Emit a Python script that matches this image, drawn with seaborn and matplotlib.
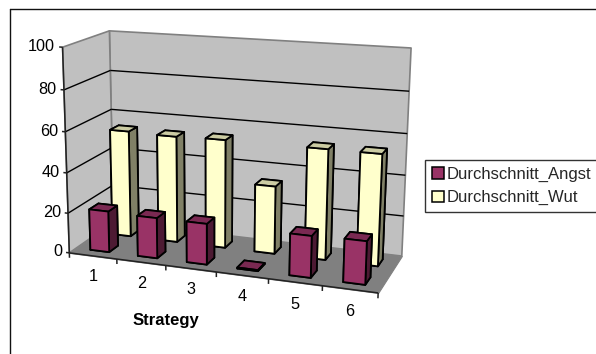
import numpy as np
import pandas as pd
import seaborn as sns
import matplotlib
matplotlib.use("Agg")
import matplotlib.pyplot as plt
from matplotlib.lines import Line2D
from matplotlib.patches import Patch
from mpl_toolkits.mplot3d import proj3d
from mpl_toolkits.mplot3d.art3d import Poly3DCollection, Line3DCollection

strategies = ["1", "2", "3", "4", "5", "6"]
angst = [20.5, 20, 20, 0.5, 20, 20.5]
wut = [54, 53.5, 54, 33.5, 54, 54]
value_ticks = [0, 20, 40, 60, 80, 100]
series_names = ["Durchschnitt_Angst", "Durchschnitt_Wut"]

sns.set_theme(style="white")
plt.rcParams["font.family"] = ["Liberation Sans", "DejaVu Sans"]

W, H = 596, 354
data = pd.DataFrame({"Strategy": strategies, series_names[0]: angst, series_names[1]: wut})
front_colors = sns.color_palette(["#993366", "#FFFFCC"])
top_colors = ["#7A2952", "#CCCCA3"]
side_colors = ["#4D1A33", "#808066"]
TEXT_SIZE = 11.7

fig = plt.figure(figsize=(W / 100, H / 100), dpi=100, facecolor="white")
# A square 3D axes as wide as the figure, so nothing is clipped.
ax = fig.add_axes([0, -(W - H) / (2 * H), 1, W / H], projection="3d", computed_zorder=False)
ax.set_axis_off()
ax.patch.set_visible(False)
ax.apply_aspect()

# Camera of the chart box: box corners (strategy, depth, value) and where they appear.
n = len(strategies)
box = [(0, 0, 0), (0, 0, 100), (0, 2, 0), (0, 2, 100), (n, 2, 100), (n, 2, 0), (n, 0, 0)]
seen = [(70, 253), (62, 47), (113, 222), (110, 31), (411, 48), (402, 256), (378, 293)]
view = ax.transData.inverted().transform([(px, H - py) for px, py in seen])
rows, rhs = [], []
for (x, y, z), (u, v) in zip(box, view):
    rows.append([x, y, z, 1, 0, 0, 0, 0, -u * x, -u * y, -u * z])
    rows.append([0, 0, 0, 0, x, y, z, 1, -v * x, -v * y, -v * z])
    rhs += [u, v]
p = np.linalg.lstsq(np.array(rows), np.array(rhs), rcond=None)[0]
camera = np.array([
    [p[0], p[1], p[2], p[3]],
    [p[4], p[5], p[6], p[7]],
    [-0.3, 1.0, -0.01, 0.0],
    [p[8], p[9], p[10], 1.0],
])
ax.get_proj = lambda: camera


def label_at(x, y, z, text, **kw):
    """Place a flat figure text at a point of the chart box."""
    u, v, _ = proj3d.proj_transform(x, y, z, camera)
    fx, fy = fig.transFigure.inverted().transform(ax.transData.transform((u, v)))
    fig.text(fx, fy, text, fontsize=TEXT_SIZE, color="black", **kw)


# Walls and floor
wall = Poly3DCollection(
    [[(0, 2, 0), (n, 2, 0), (n, 2, 100), (0, 2, 100)],
     [(0, 0, 0), (0, 2, 0), (0, 2, 100), (0, 0, 100)]],
    facecolors="#C0C0C0", edgecolors="#808080", linewidths=1.2, zorder=1)
floor = Poly3DCollection([[(0, 0, 0), (n, 0, 0), (n, 2, 0), (0, 2, 0)]],
                         facecolors="#808080", edgecolors="#808080", linewidths=0.8, zorder=2)
ax.add_collection3d(wall)
ax.add_collection3d(floor)

# Gridlines on both walls
grid = []
for v in value_ticks[1:-1]:
    grid.append([(0, 0, v), (0, 2, v)])
    grid.append([(0, 2, v), (n, 2, v)])
ax.add_collection3d(Line3DCollection(grid, colors="black", linewidths=1.0, zorder=3))

# Axis lines, value ticks and labels
axis_lines = [[(0, 0, 0), (n, 0, 0)], [(0, 0, 0), (0, 0, 100)]]
for v in value_ticks:
    axis_lines.append([(-0.07, 0, v), (0, 0, v)])
    label_at(-0.15, 0, v, str(v), ha="right", va="center")

# Category ticks under the front edge
for i in range(n + 1):
    axis_lines.append([(i, 0, 0), (i, 0, -2.5)])
for i, label in enumerate(strategies):
    label_at(i + 0.5, 0, -10.5, label, ha="center", va="center")
ax.add_collection3d(Line3DCollection(axis_lines, colors="#222222", linewidths=1.1, zorder=3))

# Bars: back row first, then the front row, each from left to right
bar_x, bar_w = 0.3, 0.4
bar_y, bar_d = 0.3, 0.4
for row, name in reversed(list(enumerate(series_names))):
    face = [matplotlib.colors.to_hex(front_colors[row]), top_colors[row], side_colors[row]]
    # bar3d face order: bottom, top, front, back, left, right
    colors = [face[0], face[1], face[0], face[0], face[2], face[2]]
    for i, value in enumerate(data[name]):
        ax.bar3d(i + bar_x, row + bar_y, 0, bar_w, bar_d, value, color=colors,
                 edgecolor="black", linewidth=1.3, shade=False, zorder=4 + (1 - row))

fig.text(166 / W, 1 - 320 / H, "Strategy", ha="center", va="center",
         fontsize=12, fontweight="bold", color="black")

# Legend and the outer chart border
handles = [Patch(facecolor=front_colors[i], edgecolor="black", linewidth=1.1, label=series_names[i])
           for i in range(2)]
fig.legend(handles=handles, loc="upper left", bbox_to_anchor=(425 / W, 1 - 159.5 / H),
           frameon=True, fancybox=False, edgecolor="#333333", framealpha=1, fontsize=12,
           borderpad=0.42, labelspacing=0.52, handlelength=0.7, handleheight=0.7,
           handletextpad=0.2, borderaxespad=0)
fig.add_artist(Line2D([9.5 / W, 1], [1 - 9 / H, 1 - 9 / H], color="#111111", lw=1.0))
fig.add_artist(Line2D([9.5 / W, 9.5 / W], [1 - 9 / H, 0], color="#111111", lw=1.0))

fig.savefig("out.png", dpi=100)
